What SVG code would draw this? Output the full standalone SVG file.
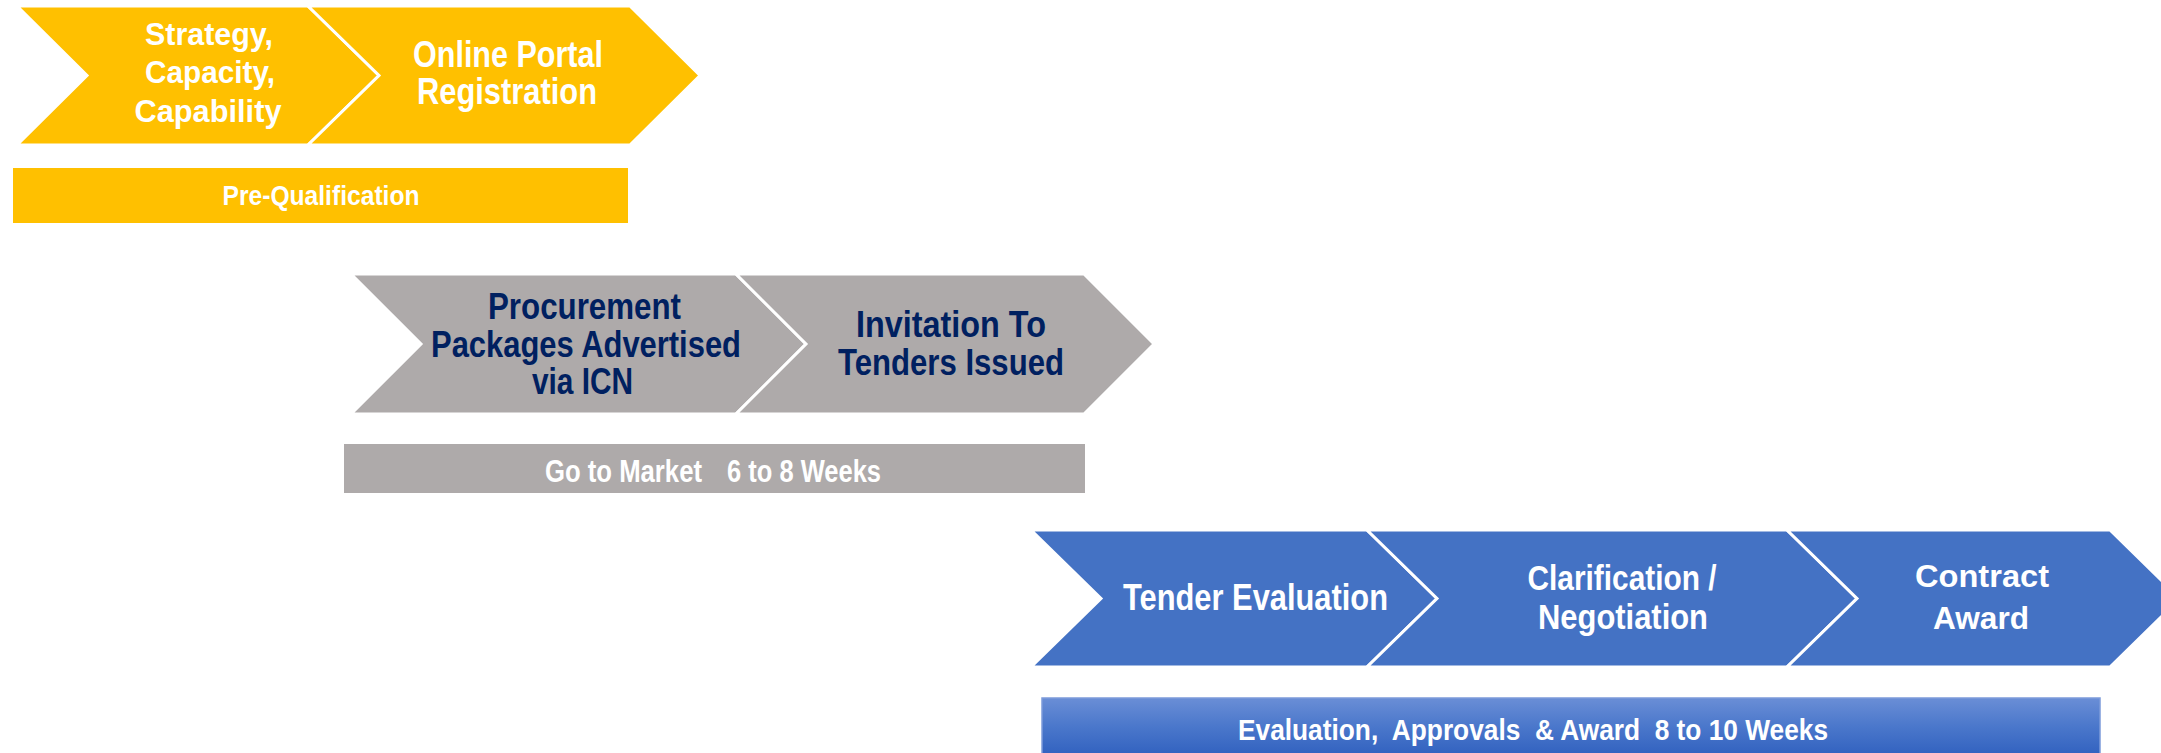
<svg xmlns="http://www.w3.org/2000/svg" width="2161" height="753" viewBox="0 0 2161 753">
<style>
.chev{stroke:#FFFFFF;stroke-width:3;stroke-linejoin:miter}
.y{fill:#FFC000}
.g{fill:#AEAAAA}
.b{fill:#4472C4}
.t{font-family:"Liberation Sans",Arial,sans-serif;font-weight:bold;text-anchor:middle}
.w{fill:#FFFFFF}
.n{fill:#002060}
</style>
<defs>
<linearGradient id="blueBar" x1="0" y1="0" x2="0" y2="1">
<stop offset="0" stop-color="#6A8ED6"/>
<stop offset="0.5" stop-color="#4A77CB"/>
<stop offset="1" stop-color="#3161BF"/>
</linearGradient>
</defs>
<rect width="2161" height="753" fill="#FFFFFF"/>

<g id="strategy">
<path class="chev y" d="M17,6 L308,6 L379,75.5 L308,145 L17,145 L87,75.5 Z"/>
<text class="t w" font-size="32" x="209" y="45" textLength="128" lengthAdjust="spacingAndGlyphs">Strategy,</text>
<text class="t w" font-size="32" x="210" y="83" textLength="130" lengthAdjust="spacingAndGlyphs">Capacity,</text>
<text class="t w" font-size="32" x="208" y="122" textLength="147" lengthAdjust="spacingAndGlyphs">Capability</text>
</g>
<g id="online-portal">
<path class="chev y" d="M308,6 L630,6 L700,75.5 L630,145 L308,145 L379,75.5 Z"/>
<text class="t w" font-size="37" x="508" y="67" textLength="190" lengthAdjust="spacingAndGlyphs">Online Portal</text>
<text class="t w" font-size="37" x="507" y="104" textLength="180" lengthAdjust="spacingAndGlyphs">Registration</text>
</g>
<g id="pre-qualification">
<rect class="y" x="13" y="168" width="615" height="55"/>
<text class="t w" font-size="28" x="321" y="205" textLength="197" lengthAdjust="spacingAndGlyphs">Pre-Qualification</text>
</g>

<g id="procurement">
<path class="chev g" d="M351,274 L736,274 L806,344 L736,414 L351,414 L421,344 Z"/>
<text class="t n" font-size="37" x="584.5" y="319" textLength="193" lengthAdjust="spacingAndGlyphs">Procurement</text>
<text class="t n" font-size="37" x="586" y="356.5" textLength="310" lengthAdjust="spacingAndGlyphs">Packages Advertised</text>
<text class="t n" font-size="37" x="582.5" y="394" textLength="101" lengthAdjust="spacingAndGlyphs">via ICN</text>
</g>
<g id="invitation">
<path class="chev g" d="M736,274 L1084,274 L1154,344 L1084,414 L736,414 L806,344 Z"/>
<text class="t n" font-size="37" x="951" y="337" textLength="190" lengthAdjust="spacingAndGlyphs">Invitation To</text>
<text class="t n" font-size="37" x="951" y="375" textLength="226" lengthAdjust="spacingAndGlyphs">Tenders Issued</text>
</g>
<g id="go-to-market">
<rect class="g" x="344" y="444" width="741" height="49"/>
<text class="w" font-family="Liberation Sans, Arial, sans-serif" font-weight="bold" font-size="31" x="545" y="482" textLength="157" lengthAdjust="spacingAndGlyphs">Go to Market</text>
<text class="w" font-family="Liberation Sans, Arial, sans-serif" font-weight="bold" font-size="31" x="727" y="482" textLength="154" lengthAdjust="spacingAndGlyphs">6 to 8 Weeks</text>
</g>

<g id="tender-evaluation">
<path class="chev b" d="M1031,530 L1367,530 L1437,598.5 L1367,667 L1031,667 L1101,598.5 Z"/>
<text class="t w" font-size="37" x="1255.5" y="610" textLength="265" lengthAdjust="spacingAndGlyphs">Tender Evaluation</text>
</g>
<g id="clarification">
<path class="chev b" d="M1367,530 L1787,530 L1857,598.5 L1787,667 L1367,667 L1437,598.5 Z"/>
<text class="t w" font-size="35" x="1622" y="590" textLength="189" lengthAdjust="spacingAndGlyphs">Clarification /</text>
<text class="t w" font-size="35" x="1623" y="629" textLength="170" lengthAdjust="spacingAndGlyphs">Negotiation</text>
</g>
<g id="contract-award">
<path class="chev b" d="M1787,530 L2110,530 L2180,598.5 L2110,667 L1787,667 L1857,598.5 Z"/>
<text class="t w" font-size="32" x="1982" y="587" textLength="134" lengthAdjust="spacingAndGlyphs">Contract</text>
<text class="t w" font-size="32" x="1981" y="629" textLength="96" lengthAdjust="spacingAndGlyphs">Award</text>
</g>
<g id="evaluation-approvals">
<rect x="1042" y="698" width="1058" height="58" fill="url(#blueBar)" stroke="#7C9BDA" stroke-width="1.5"/>
<text class="w" xml:space="preserve" font-family="Liberation Sans, Arial, sans-serif" font-weight="bold" font-size="29" x="1238" y="740" textLength="590" lengthAdjust="spacingAndGlyphs">Evaluation,  Approvals  &amp; Award  8 to 10 Weeks</text>
</g>
</svg>
